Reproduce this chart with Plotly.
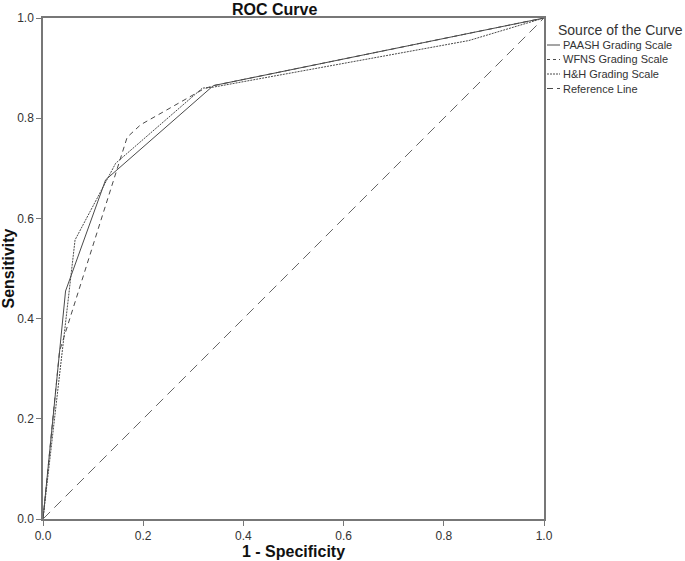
import plotly.graph_objects as go

# Data
paash_fpr = [0.0, 0.045, 0.125, 0.34, 1.0]
paash_tpr = [0.0, 0.455, 0.677, 0.865, 1.0]

wfns_fpr = [0.0, 0.033, 0.168, 0.195, 0.32, 0.34, 1.0]
wfns_tpr = [0.0, 0.335, 0.762, 0.787, 0.858, 0.865, 1.0]

hh_fpr = [0.0, 0.064, 0.145, 0.318, 0.34, 0.85, 1.0]
hh_tpr = [0.0, 0.557, 0.71, 0.86, 0.862, 0.955, 1.0]

ref_x = [0.0, 1.0]
ref_y = [0.0, 1.0]

tick_vals = [0.0, 0.2, 0.4, 0.6, 0.8, 1.0]
tick_text = ["0.0", "0.2", "0.4", "0.6", "0.8", "1.0"]

legend_names = ["PAASH Grading Scale", "WFNS Grading Scale", "H&H Grading Scale", "Reference Line"]
legend_dashes = ["solid", "3px,3px", "2px,1px", "6px,4px"]

line_col = "#4a4a4a"
font_fam = "Liberation Sans, Arial, sans-serif"

fig = go.Figure()
fig.add_trace(go.Scatter(x=paash_fpr, y=paash_tpr, mode="lines", name=legend_names[0],
                         line=dict(color=line_col, width=1), showlegend=False))
fig.add_trace(go.Scatter(x=wfns_fpr, y=wfns_tpr, mode="lines", name=legend_names[1],
                         line=dict(color=line_col, width=1, dash="5px,4px"), showlegend=False))
fig.add_trace(go.Scatter(x=hh_fpr, y=hh_tpr, mode="lines", name=legend_names[2],
                         line=dict(color=line_col, width=1, dash="2px,1px"), showlegend=False))
fig.add_trace(go.Scatter(x=ref_x, y=ref_y, mode="lines", name=legend_names[3],
                         line=dict(color="#666666", width=1, dash="10px,6px"), showlegend=False))

axis_common = dict(
    range=[0, 1], tickvals=tick_vals, ticktext=tick_text,
    showgrid=False, zeroline=False, showline=True, linecolor="#777777", linewidth=1.5,
    mirror=True, ticks="outside", ticklen=5, tickcolor="#777777", automargin=False,
    tickfont=dict(family=font_fam, size=12, color="#333333"),
)

W, H = 685, 561
L, R, T, B = 43, 141, 18, 42
pw = W - L - R
ph = H - T - B


def px_x(p):
    return (p - L) / pw


def px_y(p):
    return (H - B - p) / ph


annotations = [
    dict(text="<b>ROC Curve</b>", x=px_x(274), y=1.0, xref="paper", yref="paper",
         yanchor="bottom", yshift=-1, borderpad=0, showarrow=False,
         font=dict(size=16, color="#111111")),
    dict(text="Source of the Curve", x=px_x(556), y=px_y(30), xref="paper", yref="paper",
         xanchor="left", yanchor="middle", showarrow=False, font=dict(size=14, color="#333333")),
]
shapes = []
item_y = [45, 59.5, 74, 88.5]
for name, dash, yy in zip(legend_names, legend_dashes, item_y):
    annotations.append(dict(text=name, x=px_x(561), y=px_y(yy), xref="paper", yref="paper",
                            xanchor="left", yanchor="middle", showarrow=False,
                            font=dict(size=11, color="#333333")))
    shapes.append(dict(type="line", xref="paper", yref="paper",
                       x0=px_x(547), x1=px_x(560), y0=px_y(yy), y1=px_y(yy),
                       line=dict(color=line_col, width=1, dash=dash)))

fig.update_layout(
    width=W, height=H,
    margin=dict(l=L, r=R, t=T, b=B, autoexpand=False),
    paper_bgcolor="white", plot_bgcolor="white",
    font=dict(family=font_fam, color="#222222"),
    xaxis=dict(**axis_common, title=dict(text="<b>1 - Specificity</b>", font=dict(size=16, color="#111111"), standoff=4)),
    yaxis=dict(**axis_common, title=dict(text="<b>Sensitivity</b>", font=dict(size=16, color="#111111"), standoff=6)),
    showlegend=False,
    annotations=annotations,
    shapes=shapes,
)

fig.write_html("out.html", config={"displayModeBar": False},
               post_script="document.body.style.margin='0';")
